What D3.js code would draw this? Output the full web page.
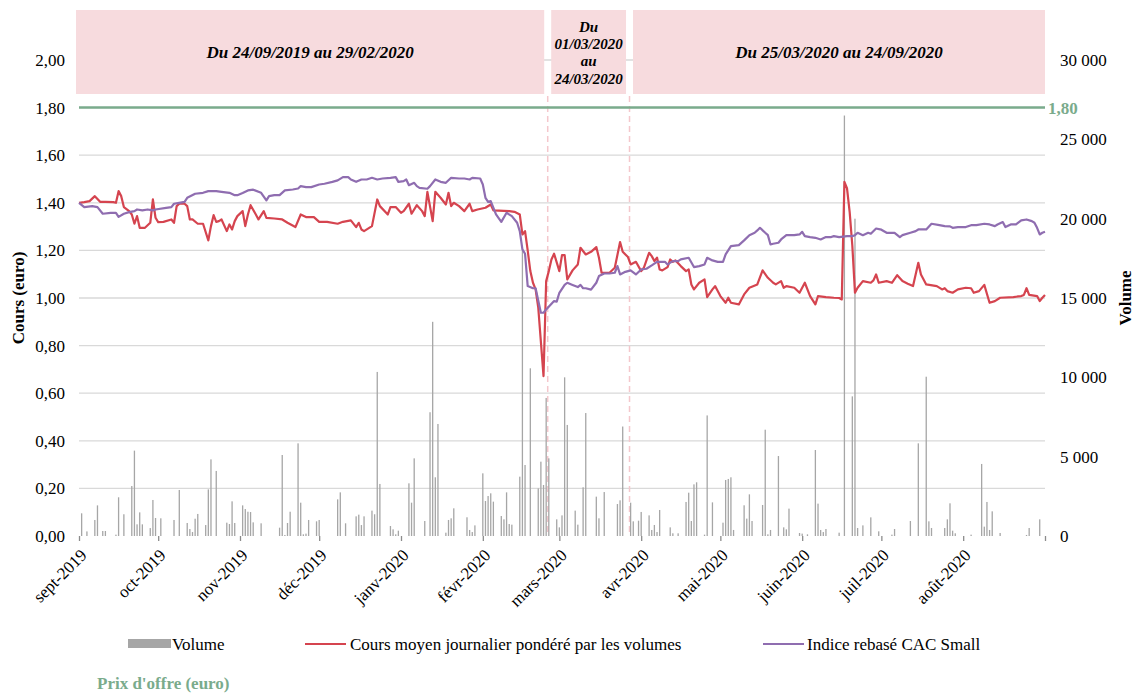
<!DOCTYPE html>
<html lang="fr">
<head>
<meta charset="utf-8">
<script src="https://cdn.jsdelivr.net/npm/d3@7/dist/d3.min.js"></script>
<style>
    body { margin: 0; background: #fff; }
    svg text { font-family: "Liberation Serif", "Times New Roman", serif; font-size: 17px; fill: #000; }
    .grid line { stroke: #d9d9d9; stroke-width: 1.3; }
    .axis .domain { display: none; }
    .xaxis .domain, .xaxis .tick line { stroke: #8c8c8c; stroke-width: 1.3; }
    .period { fill: #f7dbde; }
    .period-text { font-weight: bold; font-style: italic; }
    .divider { stroke: #f4c7cc; stroke-width: 1.5; stroke-dasharray: 6,4; }
    .offer { stroke: #7aab8c; stroke-width: 2.5; }
    .offer-text { fill: #7aab8c !important; font-weight: bold; }
    .title { font-weight: bold; }
    .bar { fill: #a6a6a6; }
    .vwap { fill: none; stroke: #d5444f; stroke-width: 2.2; stroke-linejoin: round; }
    .cac { fill: none; stroke: #8f6db0; stroke-width: 2.2; stroke-linejoin: round; }
</style>
</head>
<body>
<svg id="chart" width="1137" height="693"></svg>
<script>
// jours comptes depuis le 24/09/2019 (premier point de l'axe)
const startDate = new Date(2019, 8, 24);
const dayCount = 366;

const monthLabels = ["sept-2019", "oct-2019", "nov-2019", "déc-2019", "janv-2020", "févr-2020",
    "mars-2020", "avr-2020", "mai-2020", "juin-2020", "juil-2020", "août-2020", ""];
const priceTicks = [0, 0.2, 0.4, 0.6, 0.8, 1.0, 1.2, 1.4, 1.6, 1.8, 2.0];
const volumeTicks = [0, 5000, 10000, 15000, 20000, 25000, 30000];
const offerPrice = 1.80;
const periodLabels = [["Du 24/09/2019 au 29/02/2020"], ["Du", "01/03/2020", "au", "24/03/2020"],
    ["Du 25/03/2020 au 24/09/2020"]];
const periodBreaks = [new Date(2020, 2, 19, 14), new Date(2020, 3, 19, 14)];
const legendLabels = ["Volume", "Cours moyen journalier pondéré par les volumes", "Indice rebasé CAC Small"];
const offerLabel = "Prix d'offre (euro)";

// [jour, volume]
const volume = [[1,1430],[3,290],[6,1010],[7,1930],[9,315],[10,315],[14,85],[15,2440],[17,1370],[20,3150],
    [21,5380],[22,735],[23,1490],[24,735],[27,500],[28,2270],[29,1135],[31,1115],[36,1010],[38,2900],
    [41,820],[42,440],[43,250],[44,1090],[45,1390],[48,690],[49,2940],[50,4830],[52,4100],[56,840],
    [57,755],[58,2185],[59,820],[62,1930],[63,1700],[64,1530],[65,1510],[66,860],[69,800],[76,525],
    [77,5105],[78,65],[79,820],[80,1530],[83,5840],[84,2100],[85,105],[86,150],[87,1010],[90,925],
    [91,1010],[98,2310],[99,2750],[101,800],[105,1240],[106,1345],[107,690],[108,1240],[111,1600],[112,1370],
    [113,10340],[114,3280],[118,630],[119,420],[120,105],[121,335],[125,3320],[126,2100],[127,4895],[131,945],
    [133,7800],[134,13500],[135,3700],[136,7060],[139,210],[140,1010],[141,1115],[142,1745],[147,1180],[148,380],
    [149,250],[150,670],[153,3950],[154,2205],[155,2520],[156,2690],[157,2165],[160,1260],[161,1050],[162,2750],
    [163,755],[164,715],[167,3740],[168,18000],[169,4475],[171,10570],[174,3000],[175,4685],[176,3215],[177,8700],
    [178,4895],[181,1050],[182,545],[183,1300],[184,10000],[185,7000],[188,1600],[189,715],[191,3070],[192,7750],
    [196,2480],[197,1115],[199,2770],[204,2015],[205,2250],[206,6900],[209,2100],[210,925],[212,965],[213,1515],
    [216,1300],[217,380],[218,695],[219,250],[220,1640],[224,545],[225,170],[227,170],[230,2145],[231,2730],
    [232,945],[233,3255],[234,3385],[237,85],[238,7600],[240,2120],[244,840],[245,3530],[246,3595],[247,3700],
    [248,380],[252,1935],[253,1095],[254,2625],[255,945],[259,1955],[260,6700],[261,105],[262,380],[265,5040],
    [267,545],[268,420],[269,1725],[273,190],[274,150],[276,105],[279,5420],[280,2040],[281,380],[282,250],
    [283,440],[288,210],[290,26500],[293,8800],[294,20000],[295,505],[297,670],[300,1175],[303,295],[308,85],
    [309,440],[315,945],[318,5840],[321,10040],[322,925],[323,505],[328,505],[329,1050],[330,2060],[331,335],
    [332,170],[338,85],[342,4540],[343,590],[344,2145],[345,380],[346,1555],[349,190],[359,65],[360,505],[364,1050]];

// [jour, cours moyen pondere]
const vwap = [[0,1.40],[2,1.403],[4,1.407],[6,1.428],[8,1.404],[10,1.404],[13,1.403],[14,1.40],[15,1.449],[16,1.428],
    [17,1.382],[19,1.365],[20,1.351],[21,1.312],[22,1.344],[23,1.295],[25,1.295],[27,1.316],[28,1.414],[29,1.337],
    [30,1.319],[32,1.32],[35,1.33],[36,1.316],[37,1.386],[38,1.396],[40,1.396],[41,1.386],[42,1.33],[43,1.33],
    [45,1.312],[47,1.312],[49,1.242],[50,1.302],[51,1.348],[52,1.32],[53,1.323],[54,1.33],[56,1.281],[57,1.309],
    [58,1.288],[59,1.323],[60,1.344],[62,1.365],[63,1.302],[64,1.351],[65,1.39],[67,1.351],[68,1.33],[70,1.365],
    [71,1.337],[74,1.334],[77,1.33],[79,1.316],[82,1.298],[84,1.351],[86,1.34],[89,1.34],[91,1.32],[94,1.32],
    [98,1.312],[100,1.32],[103,1.326],[105,1.298],[106,1.316],[107,1.288],[108,1.281],[111,1.302],[113,1.414],[114,1.386],
    [117,1.351],[118,1.382],[120,1.382],[122,1.358],[123,1.365],[125,1.396],[126,1.354],[128,1.39],[130,1.365],[131,1.344],
    [132,1.446],[134,1.323],[135,1.446],[137,1.421],[139,1.393],[140,1.442],[141,1.386],[142,1.40],[144,1.386],[146,1.365],
    [148,1.396],[149,1.365],[151,1.372],[154,1.379],[156,1.393],[157,1.368],[163,1.365],[165,1.362],[167,1.351],[168,1.267],
    [169,1.281],[170,1.20],[171,1.113],[172,1.064],[173,1.036],[174,0.96],[176,0.672],[177,1.071],[178,1.113],[179,1.162],
    [180,1.186],[182,1.113],[183,1.18],[184,1.18],[185,1.078],[187,1.116],[189,1.141],[190,1.211],[192,1.183],[194,1.194],
    [196,1.214],[197,1.169],[198,1.106],[201,1.106],[203,1.127],[205,1.235],[206,1.194],[208,1.172],[209,1.141],[211,1.152],
    [213,1.113],[214,1.127],[216,1.19],[217,1.176],[218,1.155],[219,1.17],[220,1.12],[221,1.116],[223,1.13],[224,1.162],
    [225,1.152],[226,1.158],[228,1.134],[230,1.113],[231,1.12],[232,1.057],[233,1.036],[235,1.064],[237,1.078],[238,1.004],
    [240,1.036],[241,1.05],[243,1.008],[245,0.98],[246,1.001],[247,0.98],[250,0.973],[252,1.015],[254,1.043],[257,1.057],
    [259,1.116],[261,1.085],[263,1.064],[264,1.057],[266,1.071],[267,1.043],[268,1.05],[271,1.043],[273,1.022],[275,1.064],
    [277,1.008],[279,0.973],[280,1.008],[283,1.004],[286,1.001],[288,1.0],[289,0.994],[290,1.488],[291,1.46],[292,1.36],
    [293,1.22],[294,1.022],[295,1.043],[297,1.071],[300,1.064],[301,1.074],[302,1.099],[303,1.064],[306,1.071],[308,1.064],
    [310,1.096],[312,1.071],[314,1.06],[316,1.05],[318,1.148],[319,1.099],[321,1.057],[325,1.05],[327,1.036],[328,1.041],
    [329,1.029],[331,1.022],[333,1.036],[336,1.043],[338,1.041],[339,1.022],[341,1.029],[343,1.055],[345,0.98],[347,0.987],
    [349,1.001],[354,1.004],[357,1.008],[358,1.013],[359,1.041],[360,1.013],[363,1.008],[364,0.987],[365,1.001],[366,1.013]];

// [jour, indice CAC Small rebase]
const cacSmall = [[0,1.40],[2,1.382],[5,1.386],[7,1.382],[9,1.354],[12,1.358],[14,1.358],[15,1.341],[17,1.354],[19,1.361],
    [21,1.365],[22,1.372],[24,1.368],[26,1.372],[28,1.368],[29,1.372],[33,1.379],[35,1.382],[36,1.396],[38,1.40],
    [40,1.404],[41,1.421],[44,1.438],[47,1.442],[49,1.449],[52,1.449],[54,1.446],[57,1.442],[59,1.432],[60,1.432],
    [62,1.441],[64,1.452],[66,1.455],[69,1.442],[71,1.41],[72,1.428],[74,1.432],[76,1.432],[78,1.452],[81,1.456],
    [83,1.46],[84,1.47],[86,1.466],[88,1.466],[91,1.477],[93,1.48],[96,1.488],[98,1.494],[100,1.508],[102,1.508],
    [103,1.498],[105,1.488],[107,1.498],[109,1.498],[111,1.505],[113,1.498],[115,1.502],[118,1.505],[120,1.508],[121,1.488],
    [123,1.491],[124,1.498],[125,1.474],[127,1.484],[128,1.47],[129,1.463],[132,1.459],[133,1.47],[135,1.498],[137,1.488],
    [139,1.484],[141,1.505],[144,1.502],[146,1.502],[148,1.498],[149,1.505],[152,1.502],[153,1.477],[154,1.421],[155,1.404],
    [156,1.407],[158,1.351],[160,1.32],[162,1.358],[164,1.344],[166,1.316],[167,1.281],[168,1.204],[169,1.186],[170,1.05],
    [172,1.041],[173,1.041],[175,0.938],[176,0.938],[177,0.952],[180,0.987],[181,0.985],[182,1.022],[184,1.055],[185,1.064],
    [187,1.055],[189,1.046],[190,1.055],[191,1.041],[192,1.041],[194,1.035],[196,1.064],[197,1.092],[199,1.103],[201,1.103],
    [203,1.106],[204,1.134],[205,1.099],[207,1.11],[209,1.116],[211,1.099],[213,1.12],[215,1.123],[217,1.137],[219,1.152],
    [222,1.152],[223,1.141],[225,1.155],[227,1.155],[228,1.162],[231,1.169],[233,1.13],[235,1.134],[237,1.141],[238,1.169],
    [240,1.158],[242,1.152],[244,1.152],[245,1.183],[247,1.218],[250,1.222],[252,1.242],[254,1.264],[256,1.274],[257,1.284],
    [258,1.295],[260,1.274],[261,1.264],[262,1.225],[263,1.228],[265,1.232],[266,1.246],[268,1.264],[271,1.264],[273,1.267],
    [274,1.278],[275,1.26],[277,1.256],[279,1.253],[281,1.246],[283,1.256],[285,1.256],[286,1.26],[288,1.256],[291,1.26],
    [293,1.26],[294,1.264],[295,1.274],[297,1.264],[299,1.274],[300,1.27],[302,1.292],[304,1.287],[306,1.274],[309,1.274],
    [311,1.256],[312,1.264],[315,1.274],[317,1.281],[318,1.288],[321,1.288],[323,1.312],[326,1.306],[328,1.302],[330,1.301],
    [331,1.295],[333,1.298],[336,1.298],[338,1.306],[340,1.306],[343,1.312],[345,1.309],[347,1.302],[348,1.309],[350,1.319],
    [351,1.298],[353,1.309],[355,1.309],[357,1.326],[359,1.33],[361,1.323],[362,1.316],[363,1.295],[364,1.267],[365,1.274],
    [366,1.278]];

/** Chart with price lines on the left axis and volume bars on the right axis */
class CoursChart {
    constructor() {
        this.svg = d3.select("#chart");
        this.margin = {top: 60, right: 92, bottom: 157, left: 79};
        this.width = 1137 - this.margin.left - this.margin.right;
        this.height = 693 - this.margin.top - this.margin.bottom;

        this.day = d => d3.timeDay.offset(startDate, d);
        this.x = d3.scaleTime().domain([startDate, this.day(dayCount)]).range([0, this.width]);
        this.yPrice = d3.scaleLinear().domain([0, 2]).range([this.height, 0]);
        this.yVol = d3.scaleLinear().domain([0, 30000]).range([this.height, 0]);

        this.g = this.svg.append("g")
            .attr("transform", `translate(${this.margin.left},${this.margin.top})`);
    }

    drawAxes() {
        let g = this.g;
        let priceFmt = d => d3.format(".2f")(d).replace(".", ",");
        let volFmt = d3.formatLocale({decimal: ",", thousands: " ", grouping: [3], currency: ["", " €"]}).format(",");

        g.append("g").attr("class", "grid")
            .selectAll("line").data(priceTicks.slice(1)).enter().append("line")
            .attr("x1", 0).attr("x2", this.width)
            .attr("y1", d => this.yPrice(d)).attr("y2", d => this.yPrice(d));

        g.append("g").attr("class", "axis")
            .call(d3.axisLeft(this.yPrice).tickValues(priceTicks).tickFormat(priceFmt).tickSize(0).tickPadding(14));

        g.append("g").attr("class", "axis")
            .attr("transform", `translate(${this.width},0)`)
            .call(d3.axisRight(this.yVol).tickValues(volumeTicks).tickFormat(volFmt).tickSize(0).tickPadding(15));

        let tickDates = d3.range(monthLabels.length).map(i => new Date(2019, 8 + i, 24));
        let xAxis = g.append("g").attr("class", "axis xaxis")
            .attr("transform", `translate(0,${this.height})`)
            .call(d3.axisBottom(this.x).tickValues(tickDates).tickFormat((d, i) => monthLabels[i])
                .tickSize(5).tickSizeOuter(0));
        xAxis.selectAll("text")
            .attr("text-anchor", "end")
            .attr("x", 0).attr("y", 0).attr("dy", "0.35em")
            .attr("transform", "translate(4,16) rotate(-45)");

        // axis titles
        g.append("text").attr("class", "title")
            .attr("transform", `translate(-61,${this.height / 2}) rotate(-90)`)
            .attr("text-anchor", "middle").attr("dy", "0.35em")
            .text("Cours (euro)");
        g.append("text").attr("class", "title")
            .attr("transform", `translate(${this.width + 80},${this.height / 2}) rotate(-90)`)
            .attr("text-anchor", "middle").attr("dy", "0.35em")
            .text("Volume");
    }

    drawPeriods() {
        let x = this.x;
        let edges = [startDate].concat(periodBreaks, [this.day(dayCount)]);
        let top = -50, bottom = 34;
        let boxes = this.g.append("g");

        periodLabels.forEach((lines, i) => {
            let x0 = x(edges[i]) + (i === 0 ? -3 : 3.5);
            let x1 = x(edges[i + 1]) - (i === periodLabels.length - 1 ? 0 : 3.5);
            boxes.append("rect").attr("class", "period")
                .attr("x", x0).attr("y", top).attr("width", x1 - x0).attr("height", bottom - top);
            let lh = 17.4;
            let mid = (top + bottom) / 2 - (lines.length - 1) * lh / 2;
            lines.forEach((t, j) => {
                boxes.append("text").attr("class", "period-text")
                    .attr("x", (x0 + x1) / 2).attr("y", mid + j * lh + 0.5)
                    .attr("dy", "0.35em").attr("text-anchor", "middle")
                    .style("font-size", lines.length > 1 ? "15px" : "17px")
                    .text(t);
            });
        });

        this.g.append("g").selectAll("line").data(periodBreaks).enter().append("line")
            .attr("class", "divider")
            .attr("x1", d => x(d)).attr("x2", d => x(d))
            .attr("y1", bottom + 2).attr("y2", this.height);
    }

    drawSeries() {
        let x = this.x, day = this.day;

        this.g.append("g").selectAll("rect").data(volume).enter().append("rect")
            .attr("class", "bar")
            .attr("x", d => x(day(d[0])) - 0.65).attr("width", 1.3)
            .attr("y", d => this.yVol(d[1]))
            .attr("height", d => this.height - this.yVol(d[1]));

        this.g.append("line").attr("class", "offer")
            .attr("x1", 0).attr("x2", this.width)
            .attr("y1", this.yPrice(offerPrice)).attr("y2", this.yPrice(offerPrice));
        this.g.append("text").attr("class", "offer-text")
            .attr("x", this.width + 3).attr("y", this.yPrice(offerPrice)).attr("dy", "0.35em")
            .text(d3.format(".2f")(offerPrice).replace(".", ","));

        let line = d3.line().x(d => x(day(d[0]))).y(d => this.yPrice(d[1]));
        this.g.append("path").datum(vwap).attr("class", "vwap").attr("d", line);
        this.g.append("path").datum(cacSmall).attr("class", "cac").attr("d", line);
    }

    drawLegend() {
        let leg = this.svg.append("g");
        let y = 644;
        leg.append("rect").attr("class", "bar").attr("x", 128).attr("y", y - 5).attr("width", 43).attr("height", 9);
        leg.append("text").attr("x", 172).attr("y", y).attr("dy", "0.35em").text(legendLabels[0]);

        leg.append("line").attr("class", "vwap").attr("x1", 305).attr("x2", 346).attr("y1", y).attr("y2", y);
        leg.append("text").attr("x", 350).attr("y", y).attr("dy", "0.35em").text(legendLabels[1]);

        leg.append("line").attr("class", "cac").attr("x1", 763).attr("x2", 804).attr("y1", y).attr("y2", y);
        leg.append("text").attr("x", 807).attr("y", y).attr("dy", "0.35em").text(legendLabels[2]);

        leg.append("text").attr("class", "offer-text")
            .attr("x", 97).attr("y", 683).attr("dy", "0.35em").text(offerLabel);
    }
}

let chart = new CoursChart();
chart.drawAxes();
chart.drawPeriods();
chart.drawSeries();
chart.drawLegend();
</script>
</body>
</html>
